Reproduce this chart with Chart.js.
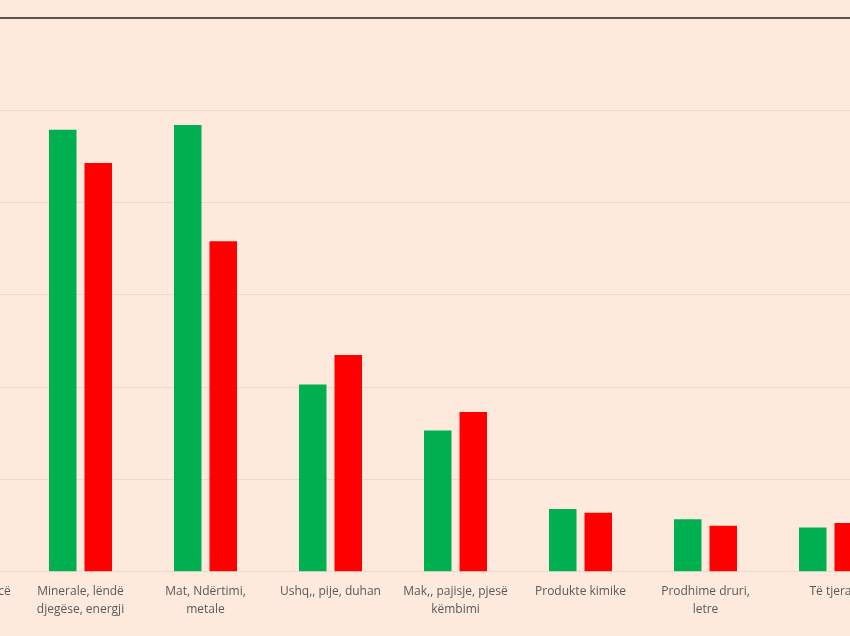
<!DOCTYPE html>
<html>
<head>
<meta charset="utf-8">
<script src="https://cdn.jsdelivr.net/npm/chart.js@4/dist/chart.umd.min.js"></script>
<style>
  html, body { margin:0; padding:0; background:#fdeadd; }
  #wrap { position:relative; width:850px; height:636px; overflow:hidden; background:#fdeadd; }
  #chart { position:absolute; left:-107px; top:0; }
</style>
</head>
<body>
<div id="wrap"><canvas id="chart" width="1000" height="636"></canvas></div>
<script>
// categories (first and last are cut off at the edges of the picture)
const categories = [
  ['Tekstile dhe këpucë'],
  ['Minerale, lëndë', 'djegëse, energji'],
  ['Mat, Ndërtimi,', 'metale'],
  ['Ushq,, pije, duhan'],
  ['Mak,, pajisje, pjesë', 'këmbimi'],
  ['Produkte kimike'],
  ['Prodhime druri,', 'letre'],
  ['Të tjera'],
];
const greenValues = [100, 479, 484, 203, 153, 68, 57, 48];
const redValues   = [110, 443, 358, 235, 173, 64, 50, 53];
const yMax = 600;
const yStep = 100;

new Chart(document.getElementById('chart'), {
  type: 'bar',
  data: {
    labels: categories,
    datasets: [
      { label: 'green', data: greenValues, backgroundColor: '#00b050', categoryPercentage: 0.568, barPercentage: 0.775 },
      { label: 'red', data: redValues, backgroundColor: '#ff0000', categoryPercentage: 0.568, barPercentage: 0.775 },
    ],
  },
  options: {
    responsive: false,
    animation: false,
    layout: { padding: { top: 18, left: 0, right: 0, bottom: 15 } },
    plugins: { legend: { display: false }, tooltip: { enabled: false } },
    scales: {
      x: {
        grid: { display: false },
        border: { color: '#efd9cc', width: 1 },
        ticks: {
          color: '#595959',
          font: { family: 'Open Sans', size: 12, lineHeight: 1.55 },
          padding: 2,
          maxRotation: 0,
          autoSkip: false,
        },
      },
      y: {
        min: 0,
        max: yMax,
        ticks: { display: false, stepSize: yStep },
        border: { display: false },
        grid: {
          drawTicks: false,
          color: (c) => (c.tick && c.tick.value === yMax ? '#5b5350' : '#efd9cc'),
          lineWidth: (c) => (c.tick && c.tick.value === yMax ? 2 : 1),
        },
        afterFit: (s) => { s.width = 0; },
      },
    },
  },
});
</script>
</body>
</html>
